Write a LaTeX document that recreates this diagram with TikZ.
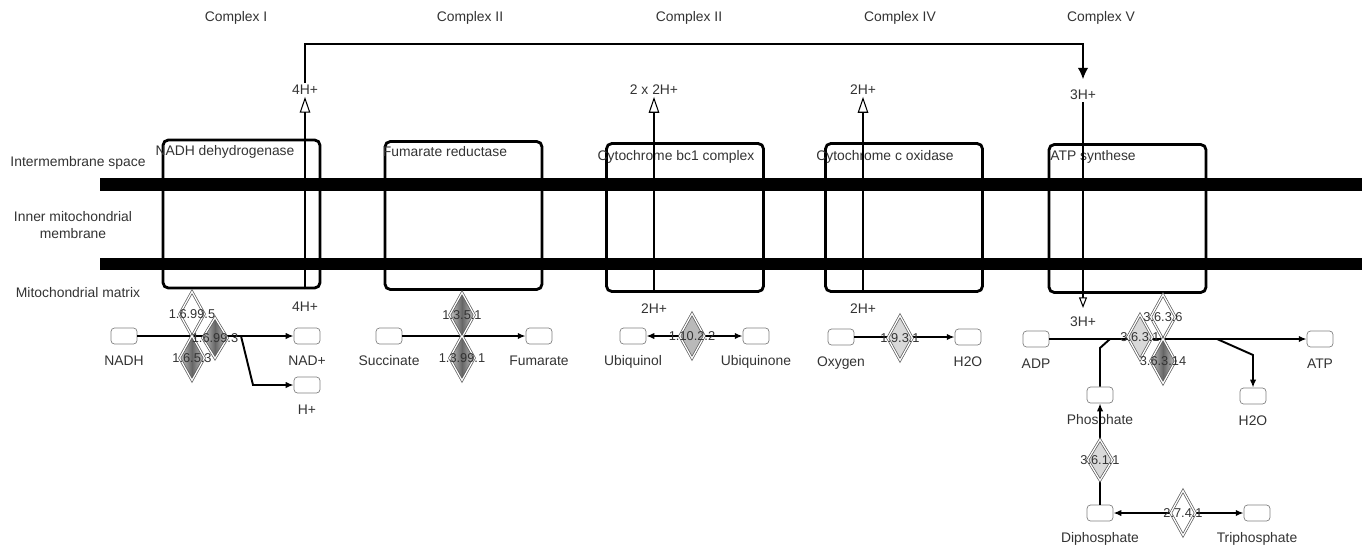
\documentclass[tikz,border=0pt]{standalone}
\usepackage{fontspec}
\setmainfont{Liberation Sans}
\usetikzlibrary{arrows.meta,shapes.geometric}

\begin{document}
\begin{tikzpicture}[
    x=0.02cm, y=-0.02cm,
    font=\fontsize{7.9}{9.5}\selectfont,
    txt/.style={text=black!80, inner sep=1pt},
    cbox/.style={draw, line width=1.6pt, rounded corners=3pt, minimum width=3.14cm, minimum height=2.96cm},
    metab/.style={draw=gray, fill=white, rounded corners=2pt, minimum width=0.52cm, minimum height=0.32cm, inner sep=0pt},
    mlab/.style={text=black!80, label distance=3pt},
    ec/.style={diamond, minimum width=0.5cm, minimum height=0.9cm, inner sep=0pt, draw=gray!70!black, double=white, double distance=0.7pt},
    eclab/.style={text=black!80, font=\fontsize{7.3}{8}\selectfont},
    ecwhite/.style={ec, fill=white},
    eclight/.style={ec, fill=gray!30},
    ecmid/.style={ec, fill=gray!55},
    ecdark/.style={ec, left color=gray!45, right color=gray!45, middle color=gray!80!black},
    rx/.style={line width=1.1pt, -{Latex[length=4.5pt,width=3.6pt]}},
    hup/.style={line width=0.6pt, -{Triangle[open,length=9pt,width=6pt]}},
    hdown/.style={line width=0.6pt, -{Triangle[open,length=6pt,width=4.5pt]}, shorten >=4pt}
]
\useasboundingbox (0,0) rectangle (1362,551);

% Complex titles
\node[txt] (tI)   at (236,18)  {Complex I};
\node[txt] (tII)  at (470,18)  {Complex II};
\node[txt] (tIII) at (689,18)  {Complex II};
\node[txt] (tIV)  at (900,18)  {Complex IV};
\node[txt] (tV)   at (1101,18) {Complex V};

% Compartment labels
\node[txt] (ims) at (78,163) {Intermembrane space};
\node[txt, align=center] (imm) at (73,225) {Inner mitochondrial\\membrane};
\node[txt] (mmx) at (78,293) {Mitochondrial matrix};

% Complexes
\node[cbox] (cI)   at (241.5,214) {};
\node[cbox] (cII)  at (463.5,215.5) {};
\node[cbox] (cIII) at (685,217.5) {};
\node[cbox] (cIV)  at (904,217.5) {};
\node[cbox] (cV)   at (1127.5,218.5) {};
\node[txt] (nI)   at (225,152) {NADH dehydrogenase};
\node[txt] (nII)  at (445,152) {Fumarate reductase};
\node[txt] (nIII) at (676,157) {Cytochrome bc1 complex};
\node[txt] (nIV)  at (885,157) {Cytochrome c oxidase};
\node[txt] (nV)   at (1093,157) {ATP synthese};

% Membrane
\fill (100,178) rectangle (1362,191);
\fill (100,258) rectangle (1362,270);

% Proton pumping
\node[txt] (hIa)   at (305,90)  {4H+};
\node[txt] (hIb)   at (305,307) {4H+};
\node[txt] (hIIIa) at (654,90)  {2 x 2H+};
\node[txt] (hIIIb) at (654,309) {2H+};
\node[txt] (hIVa)  at (863,90)  {2H+};
\node[txt] (hIVb)  at (863,309) {2H+};
\node[txt] (hVa)   at (1083,95) {3H+};
\node[txt] (hVb)   at (1083,322) {3H+};
\coordinate (ctop) at (700,44);

\draw[hup] (hIb.north |- cI.south) -- (hIa.south);
\draw[hup] (hIIIb.north |- cIII.south) -- (hIIIa.south);
\draw[hup] (hIVb.north |- cIV.south) -- (hIVa.south);
\draw[hdown] (hVa.south) -- (hVb.north);
\draw[line width=0.8pt, -{Latex[length=6.5pt,width=6pt]}, shorten >=5pt] (hIa.north) |- (ctop) -| (hVa.north);

% Metabolites
\node[metab, label={[mlab]below:NADH}] (nadh) at (124,336) {};
\node[metab, label={[mlab]below:NAD+}] (nadp) at (307,336) {};
\node[metab, label={[mlab]below:H+}] (hplus) at (307,385) {};
\node[metab, label={[mlab]below:Succinate}] (succ) at (389,336) {};
\node[metab, label={[mlab]below:Fumarate}] (fum) at (539,336) {};
\node[metab, label={[mlab]below:Ubiquinol}] (uqh) at (633,336) {};
\node[metab, label={[mlab]below:Ubiquinone}] (uq) at (756,336) {};
\node[metab, label={[mlab]below:Oxygen}] (oxy) at (841,337) {};
\node[metab, label={[mlab]below:H2O}] (wat) at (968,337) {};
\node[metab, label={[mlab]below:ADP}] (adp) at (1036,339) {};
\node[metab, label={[mlab]below:ATP}] (atp) at (1320,339) {};
\node[metab, label={[mlab]below:H2O}] (watV) at (1253,396) {};
\node[metab, label={[mlab]below:Phosphate}] (phos) at (1100,395) {};
\node[metab, label={[mlab]below:Diphosphate}] (diph) at (1100,513) {};
\node[metab, label={[mlab]below:Triphosphate}] (triph) at (1257,513) {};

% Reactions
\coordinate (brI) at (241,336);
\coordinate (bendI) at (253,385);
\coordinate (brV) at (1217,339);
\coordinate (bendV) at (1253,355);
\coordinate (joinV) at (1110,339);
\coordinate (bendP) at (1100,348);
\draw[rx] (nadh) -- (nadp);
\draw[rx] (brI) -- (bendI) -- (hplus);
\draw[rx] (succ) -- (fum);
\draw[rx, {Latex[length=4.5pt,width=3.6pt]}-{Latex[length=4.5pt,width=3.6pt]}] (uqh) -- (uq);
\draw[rx] (oxy) -- (wat);
\draw[rx] (adp) -- (atp);
\draw[rx] (brV) -- (bendV) -- (watV);
\draw[line width=1.1pt] (phos) -- (bendP) -- (joinV);
\draw[rx] (diph) -- (phos);
\draw[rx, {Latex[length=4.5pt,width=3.6pt]}-{Latex[length=4.5pt,width=3.6pt]}] (diph) -- (triph);

% Enzymes
\node[ecwhite, label={[eclab]center:1.6.99.5}] (ecIa) at (192,314) {};
\node[ecdark, label={[eclab]center:1.6.5.3}] (ecIc) at (192,358) {};
\node[ecdark, minimum height=0.82cm, label={[eclab]center:1.6.99.3}] (ecIb) at (215,338) {};
\node[ecdark, label={[eclab]center:1.3.5.1}] (ecIIa) at (462,315) {};
\node[ecdark, label={[eclab]center:1.3.99.1}] (ecIIb) at (462,358) {};
\node[ecmid, label={[eclab]center:1.10.2.2}] (ecIII) at (692,336) {};
\node[eclight, label={[eclab]center:1.9.3.1}] (ecIV) at (900,338) {};
\node[ecwhite, label={[eclab]center:3.6.3.6}] (ecVa) at (1163,317) {};
\node[eclight, label={[eclab]center:3.6.3.1}] (ecVb) at (1140,337) {};
\node[ecdark, label={[eclab]center:3.6.3.14}] (ecVc) at (1163,361) {};
\node[eclight, minimum height=0.82cm, label={[eclab]center:3.6.1.1}] (ecVd) at (1100,460) {};
\node[ecwhite, label={[eclab]center:2.7.4.1}] (ecVe) at (1183,513) {};

\end{tikzpicture}
\end{document}
